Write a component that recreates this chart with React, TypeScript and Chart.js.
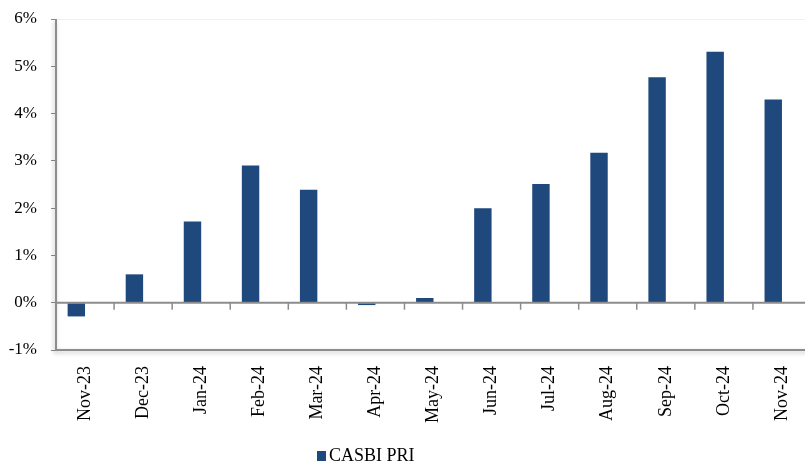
import React, { useEffect, useRef } from "react";
import { Chart, registerables } from "chart.js";

Chart.register(...registerables);

const categories = [
  "Nov-23", "Dec-23", "Jan-24", "Feb-24", "Mar-24", "Apr-24", "May-24",
  "Jun-24", "Jul-24", "Aug-24", "Sep-24", "Oct-24", "Nov-24",
];
const casbiPri = [-0.29, 0.6, 1.72, 2.9, 2.39, -0.05, 0.1, 2.0, 2.51, 3.17, 4.77, 5.31, 4.3];
const spacerSeries = [null, null, null, null, null, null, null, null, null, null, null, null, null];
const yMin = -1;
const yMax = 6;
const yStep = 1;
const seriesLabel = "CASBI PRI";
const barColor = "#1F497D";
const FAMILY = "'Liberation Serif', 'Times New Roman', serif";

const axisPlugin = {
  id: "axisDecor",
  afterDatasetsDraw(chart: any) {
    const { ctx, chartArea, scales } = chart;
    const x = scales.x;
    const y = scales.y;
    const yTop = y.getPixelForValue(yMax);
    const yBot = y.getPixelForValue(yMin);
    const y0 = y.getPixelForValue(0);
    ctx.save();
    ctx.strokeStyle = "#8c8c8c";
    ctx.lineWidth = 2;
    ctx.shadowColor = "rgba(0,0,0,0.25)";
    ctx.shadowBlur = 4;
    ctx.shadowOffsetX = -1;
    ctx.shadowOffsetY = 2;
    ctx.beginPath();
    ctx.moveTo(chartArea.left, yTop);
    ctx.lineTo(chartArea.left, yBot);
    ctx.lineTo(chartArea.right, yBot);
    ctx.stroke();
    ctx.restore();

    ctx.save();
    ctx.strokeStyle = "#8c8c8c";
    ctx.lineWidth = 2;
    ctx.beginPath();
    ctx.moveTo(chartArea.left, y0);
    ctx.lineTo(chartArea.right, y0);
    ctx.stroke();
    ctx.lineWidth = 1.5;
    const n = categories.length;
    for (let i = 1; i < n; i++) {
      const px = (x.getPixelForValue(i - 1) + x.getPixelForValue(i)) / 2;
      ctx.beginPath();
      ctx.moveTo(px, y0);
      ctx.lineTo(px, y0 + 7);
      ctx.stroke();
    }
    ctx.restore();
  },
  afterDraw(chart: any) {
    const { ctx, chartArea } = chart;
    ctx.save();
    const bx = chartArea.left + 261;
    const by = 451;
    ctx.fillStyle = barColor;
    ctx.fillRect(bx, by, 9, 10);
    ctx.fillStyle = "#000";
    ctx.font = `18px ${FAMILY}`;
    ctx.textBaseline = "middle";
    ctx.textAlign = "left";
    ctx.fillText(seriesLabel, bx + 12, by + 5.5);
    ctx.restore();
  },
};

export default function App() {
  const canvasRef = useRef<HTMLCanvasElement | null>(null);

  useEffect(() => {
    document.body.style.margin = "0";
    document.body.style.overflow = "hidden";
    let chart: any = null;
    let cancelled = false;
    const build = () => {
      const canvas = canvasRef.current;
      if (!canvas || cancelled) return;
      chart = new Chart(canvas, {
        type: "bar",
        data: {
          labels: categories,
          datasets: [
            { label: seriesLabel, data: casbiPri, backgroundColor: barColor, borderWidth: 0 },
            { label: "", data: spacerSeries as any, backgroundColor: "transparent" },
          ],
        },
        options: {
          animation: false,
          responsive: true,
          maintainAspectRatio: false,
          layout: { padding: { top: 19, left: 0, right: 0, bottom: 0 } },
          datasets: { bar: { categoryPercentage: 0.6, barPercentage: 1 } },
          plugins: { legend: { display: false }, tooltip: { enabled: false } },
          scales: {
            x: {
              grid: { display: false },
              border: { display: false },
              ticks: {
                autoSkip: false,
                maxRotation: 90,
                minRotation: 90,
                padding: 8,
                color: "#000",
                font: { family: FAMILY, size: 18 },
              },
              afterFit: (s: any) => {
                s.height = 116;
                s.paddingLeft = 0;
                s.paddingRight = 0;
                s.paddingTop = 0;
                s.paddingBottom = 0;
              },
            },
            y: {
              min: yMin,
              max: yMax,
              border: { display: false },
              grid: {
                drawOnChartArea: true,
                color: (c: any) => (c.tick && c.tick.value === yMax ? "#f0f0f0" : "rgba(0,0,0,0)"),
                tickColor: "#8c8c8c",
                tickLength: 5,
                lineWidth: 1,
              },
              ticks: {
                stepSize: yStep,
                padding: 14,
                color: "#000",
                font: { family: FAMILY, size: 17 },
                callback: (v: any) => `${v}%`,
              },
              afterFit: (s: any) => {
                s.width = 56;
                s.paddingTop = 0;
                s.paddingBottom = 0;
                s.paddingLeft = 0;
                s.paddingRight = 0;
              },
            },
          },
        },
        plugins: [axisPlugin],
      });
    };
    const fonts: any = (document as any).fonts;
    if (fonts && fonts.load) {
      Promise.all([fonts.load("18px 'Liberation Serif'"), fonts.load("17px 'Liberation Serif'")])
        .catch(() => null)
        .then(build);
    } else {
      build();
    }
    return () => {
      cancelled = true;
      if (chart) chart.destroy();
    };
  }, []);

  return (
    <div style={{ position: "fixed", left: 0, top: 0, width: 811, height: 466 }}>
      <canvas ref={canvasRef} />
    </div>
  );
}
